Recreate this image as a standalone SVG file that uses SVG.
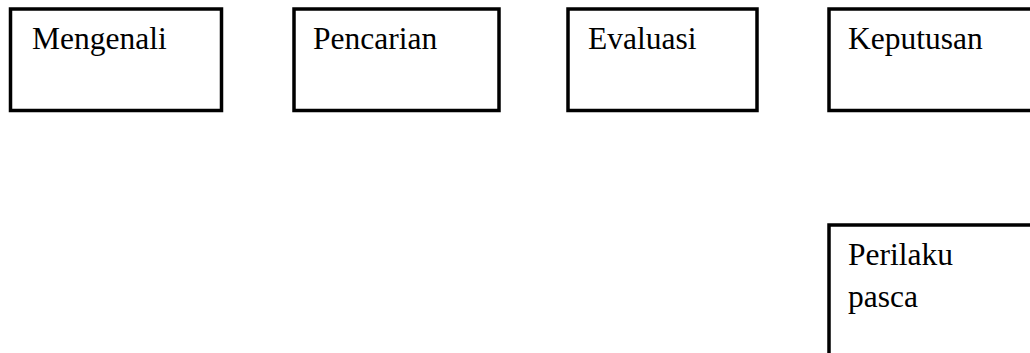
<svg xmlns="http://www.w3.org/2000/svg" width="1030" height="353" viewBox="0 0 1030 353">
<style>
.box{fill:#fff;stroke:#000;stroke-width:3.5}
.t{font-family:"Liberation Serif","Times New Roman",serif;font-size:31.5px;fill:#000}
</style>
<rect width="1030" height="353" fill="#fff"/>
<g id="connectors"></g>
<g id="mengenali"><rect class="box" x="10.5" y="9" width="211" height="101.5"/><text class="t" x="32" y="49">Mengenali</text></g>
<g id="pencarian"><rect class="box" x="294" y="9" width="205" height="101.5"/><text class="t" x="313" y="49">Pencarian</text></g>
<g id="evaluasi"><rect class="box" x="568" y="9" width="189" height="101.5"/><text class="t" x="588" y="49">Evaluasi</text></g>
<g id="keputusan"><rect class="box" x="829" y="9" width="220" height="101.5"/><text class="t" x="848" y="49">Keputusan</text></g>
<g id="perilaku"><rect class="box" x="829" y="225" width="220" height="150"/><text class="t" x="848" y="265">Perilaku</text><text class="t" x="848" y="307">pasca</text></g>
</svg>
